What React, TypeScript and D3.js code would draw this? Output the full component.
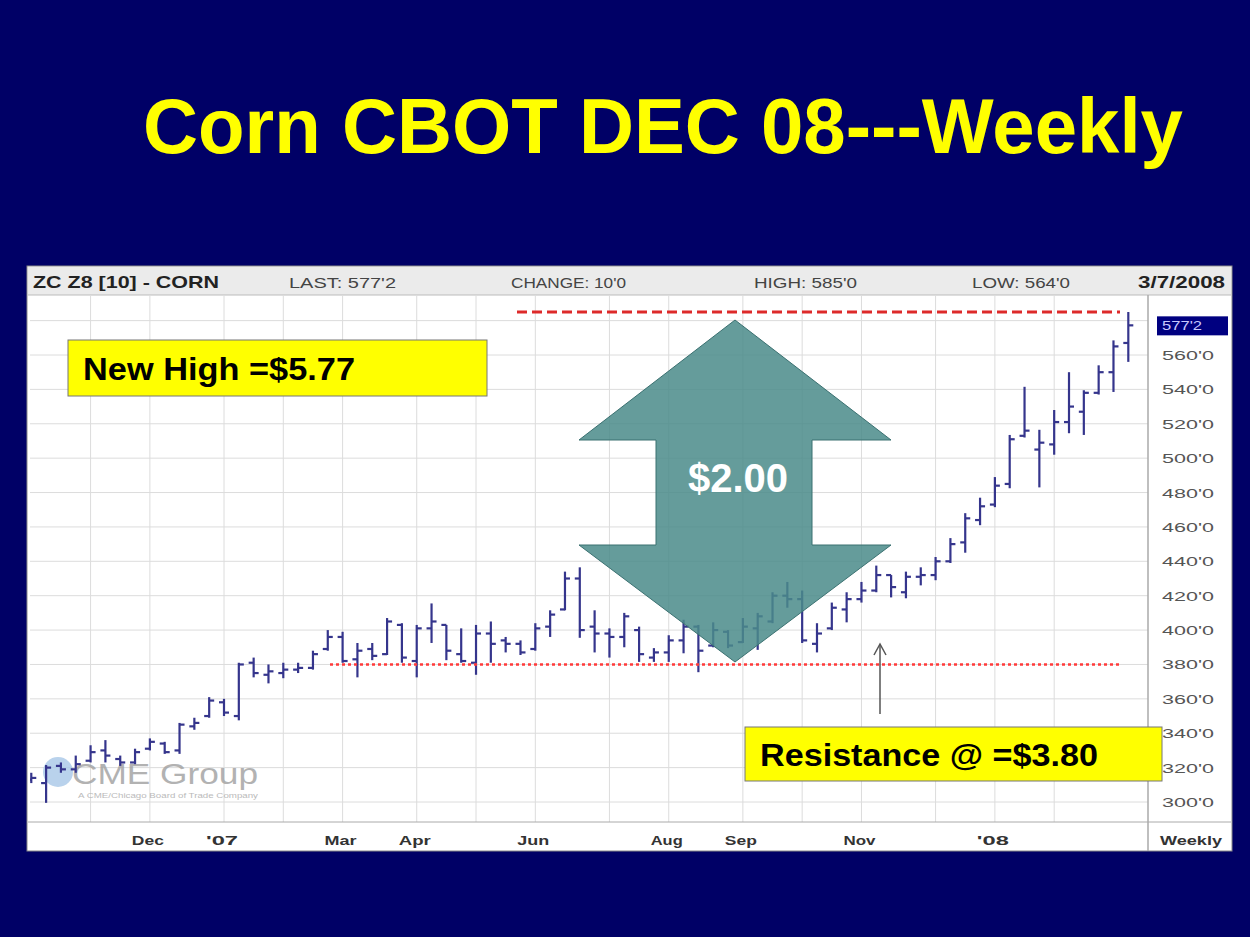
import React from "react";
import * as d3 from "d3";

// ---------- DATA ----------
const weekDates = [
  "2006-10-02","2006-10-09","2006-10-16","2006-10-23","2006-10-30","2006-11-06","2006-11-13","2006-11-20","2006-11-27",
  "2006-12-04","2006-12-11","2006-12-18","2006-12-25","2007-01-01","2007-01-08","2007-01-15","2007-01-22","2007-01-29",
  "2007-02-05","2007-02-12","2007-02-19","2007-02-26","2007-03-05","2007-03-12","2007-03-19","2007-03-26","2007-04-02",
  "2007-04-09","2007-04-16","2007-04-23","2007-04-30","2007-05-07","2007-05-14","2007-05-21","2007-05-28","2007-06-04",
  "2007-06-11","2007-06-18","2007-06-25","2007-07-02","2007-07-09","2007-07-16","2007-07-23","2007-07-30","2007-08-06",
  "2007-08-13","2007-08-20","2007-08-27","2007-09-03","2007-09-10","2007-09-17","2007-09-24","2007-10-01","2007-10-08",
  "2007-10-15","2007-10-22","2007-10-29","2007-11-05","2007-11-12","2007-11-19","2007-11-26","2007-12-03","2007-12-10",
  "2007-12-17","2007-12-24","2007-12-31","2008-01-07","2008-01-14","2008-01-21","2008-01-28","2008-02-04","2008-02-11",
  "2008-02-18","2008-02-25","2008-03-03",
];
const opens = [
  313,311,321,319,324,330,325,323,331,334,330,344,350,358,350,381,374,375,377,378,389,396,383,389,386,403,382,
  401,403,386,381,398,394,392,389,402,412,430,402,398,396,400,384,387,394,402,391,399,393,401,405,420,418,392,
  401,412,418,423,432,422,431,432,440,451,464,473,485,513,505,508,521,527,538,550,567,
];
const highs = [
  317,321.5,323,327,333,336,327,331,337,335,346,349,361,360,381,384,380,381,381,388,400,399,392.5,392.5,407,404,403,
  415.5,403,401,403,405,396,394,404,411.5,434,436.5,411.5,401,410,402,389.5,397,406,403,404.5,400,407,410,422,428,423,404,
  416,422,428,437.5,432,434,436.5,442.5,453.5,468,477,489,513.5,541.5,516.5,528,550,539.5,554,568.5,585,
];
const lows = [
  311,299.5,317,317,323,323,321,322,330,328,328,342,349,350,347.5,372.5,369,372,375,377,388,381,372.5,382.5,385.5,381,372.5,
  392.5,382.5,381,374,381,387,385.5,388,396,411.5,395.5,387,384,390,381.5,381.5,381.5,386.5,375.5,390,389.5,392.5,388.5,404,413,392.5,387,
  400,404.5,416,422,419,418.5,426,429,439,445,461,471.5,482.5,512,483,502,514.5,513.5,537,538.5,556,
];
const closes = [
  314,320,319,322,329,327,323,329,335,329,345,346,359,352,380,375,376,377,378,386,396,382,388,385,405,384,401,
  405,388,382,398,392,392,387,401,409,430,400,398,396,408,386,387,394,402,388,400,391,402,408,420,418,394,398,
  413,418,423,432,425,431,432,440,450,465,472,484,511,516,509,521,530,538,550,565,577.25,
];

const priceTicks = [300,320,340,360,380,400,420,440,460,480,500,520,540,560,580];
const priceLabels = ["300'0","320'0","340'0","360'0","380'0","400'0","420'0","440'0","460'0","480'0","500'0","520'0","540'0","560'0",""];
const monthWeeks = ["2006-10-30","2006-11-27","2007-01-01","2007-01-29","2007-02-26","2007-04-02","2007-04-30","2007-05-28",
  "2007-07-02","2007-07-30","2007-09-03","2007-10-01","2007-10-29","2007-12-03","2007-12-31","2008-01-28"];
const monthLabels = ["","Dec","'07","","Mar","Apr","","Jun","","Aug","Sep","","Nov","","'08",""];

const lastPrice = 577.25;
const lastLabel = "577'2";
const highLine = 585;
const resistance = 380;

const headerItems = [
  { text: "ZC Z8 [10] - CORN", bold: true },
  { text: "LAST: 577'2", bold: false },
  { text: "CHANGE: 10'0", bold: false },
  { text: "HIGH: 585'0", bold: false },
  { text: "LOW: 564'0", bold: false },
  { text: "3/7/2008", bold: true },
];

const parse = (s: string) => {
  const [y, m, d] = s.split("-").map(Number);
  return new Date(y, m - 1, d);
};

const FONT = "'Liberation Sans', Arial, Helvetica, sans-serif";

export default function App() {
  const W = 1250, H = 937;
  const plotL = 30, plotR = 1148, plotT = 295, plotB = 822;
  const x = d3.scaleTime().domain([new Date(2007, 0, 1), new Date(2008, 0, 1)]).range([224, 997]);
  const y = d3.scaleLinear().domain([300, 560]).range([802, 355]);

  const bars = weekDates.map((d, i) => ({
    x: x(parse(d)), o: opens[i], h: highs[i], l: lows[i], c: closes[i],
  }));

  const headerPos = [
    { x: 33, w: 186 }, { x: 289, w: 107 }, { x: 511, w: 115 }, { x: 754, w: 103 }, { x: 972, w: 98 }, { x: 1138, w: 87 },
  ];

  const arrowPts = [
    [735, 320], [891, 440], [812, 440], [812, 545], [891, 545], [735, 662],
    [579, 545], [656, 545], [656, 440], [579, 440],
  ].map((p) => p.join(",")).join(" ");

  return (
    <svg width={W} height={H} style={{ position: "fixed", left: 0, top: 0 }} fontFamily={FONT}>
      <defs>
        <clipPath id="plotclip">
          <rect x={plotL} y={plotT} width={plotR - plotL} height={plotB - plotT} />
        </clipPath>
      </defs>
      <rect x={0} y={0} width={W} height={H} fill="#000066" />
      <text x={663} y={153} fontSize={77} fontWeight="bold" fill="#ffff00" textAnchor="middle"
        textLength={1040} lengthAdjust="spacingAndGlyphs">
        Corn CBOT DEC 08---Weekly
      </text>

      {/* chart panel */}
      <rect x={27} y={266} width={1205} height={585} fill="#ffffff" stroke="#888" strokeWidth={1} />
      <rect x={28} y={267} width={1203} height={28} fill="#ebebeb" />
      <line x1={28} x2={1231} y1={295} y2={295} stroke="#bbb" />
      {headerItems.map((h, i) => (
        <text key={i} x={headerPos[i].x} y={288} fontSize={h.bold ? 17 : 14} fontWeight={h.bold ? "bold" : "normal"}
          fill={h.bold ? "#222" : "#444"} textLength={headerPos[i].w} lengthAdjust="spacingAndGlyphs">
          {h.text}
        </text>
      ))}

      {/* grid */}
      {priceTicks.map((p) => (
        <line key={"h" + p} x1={plotL} x2={plotR} y1={y(p)} y2={y(p)} stroke="#dcdcdc" strokeWidth={1} />
      ))}
      {monthWeeks.map((d) => (
        <line key={"v" + d} x1={x(parse(d))} x2={x(parse(d))} y1={plotT} y2={plotB} stroke="#dcdcdc" strokeWidth={1} />
      ))}
      <line x1={plotR} x2={plotR} y1={plotT} y2={851} stroke="#aaa" strokeWidth={1.5} />
      <line x1={28} x2={1231} y1={plotB} y2={plotB} stroke="#aaa" strokeWidth={1} />

      {/* right axis labels */}
      {priceTicks.map((p, i) =>
        priceLabels[i] ? (
          <text key={"pl" + p} x={1162} y={y(p) + 5} fontSize={13} fill="#555" textLength={52} lengthAdjust="spacingAndGlyphs">
            {priceLabels[i]}
          </text>
        ) : null
      )}
      <rect x={1157} y={y(lastPrice) - 9} width={71} height={19} fill="#000080" />
      <text x={1162} y={y(lastPrice) + 5} fontSize={13} fill="#c8c8ff" textLength={40} lengthAdjust="spacingAndGlyphs">
        {lastLabel}
      </text>

      {/* bottom axis labels */}
      {monthWeeks.map((d, i) =>
        monthLabels[i] ? (
          <text key={"ml" + d} x={x(parse(d)) - 2} y={845} fontSize={13} fontWeight="bold" fill="#333" textAnchor="middle"
            textLength={monthLabels[i].length === 3 ? 32 : 26} lengthAdjust="spacingAndGlyphs">
            {monthLabels[i]}
          </text>
        ) : null
      )}
      <text x={1160} y={845} fontSize={13} fontWeight="bold" fill="#333" textLength={62} lengthAdjust="spacingAndGlyphs">
        Weekly
      </text>

      {/* watermark */}
      <g opacity={0.8}>
        <circle cx={58} cy={772} r={15} fill="#a8c8e8" />
        <text x={72} y={784} fontSize={30} fill="#a0a0a0" textLength={186} lengthAdjust="spacingAndGlyphs">CME Group</text>
        <text x={78} y={798} fontSize={7} fill="#aaa" textLength={180} lengthAdjust="spacingAndGlyphs">
          A CME/Chicago Board of Trade Company
        </text>
      </g>

      {/* OHLC bars */}
      <g clipPath="url(#plotclip)" stroke="#35358c" strokeWidth={2.2}>
        {bars.map((b, i) => (
          <g key={i}>
            <line x1={b.x} x2={b.x} y1={y(b.h)} y2={y(b.l)} />
            <line x1={b.x - 5} x2={b.x} y1={y(b.o)} y2={y(b.o)} />
            <line x1={b.x} x2={b.x + 5} y1={y(b.c)} y2={y(b.c)} />
          </g>
        ))}
      </g>

      {/* reference lines */}
      <line x1={517} x2={1120} y1={y(highLine)} y2={y(highLine)} stroke="#dd2a2a" strokeWidth={3} strokeDasharray="10,5" />
      <line x1={330} x2={1122} y1={y(resistance)} y2={y(resistance)} stroke="#ff3b3b" strokeWidth={2.5} strokeDasharray="3,3" />

      {/* big double arrow */}
      <polygon points={arrowPts} fill="#4a8b8a" fillOpacity={0.85} stroke="#3a7070" strokeWidth={1} />
      <text x={738} y={492} fontSize={40} fontWeight="bold" fill="#ffffff" textAnchor="middle">$2.00</text>

      {/* small arrow */}
      <line x1={880} x2={880} y1={714} y2={645} stroke="#555" strokeWidth={1.5} />
      <path d="M874,655 L880,644 L886,655" fill="none" stroke="#555" strokeWidth={1.5} />

      {/* callouts */}
      <rect x={68} y={340} width={419} height={56} fill="#ffff00" stroke="#777" strokeWidth={1} />
      <text x={83} y={380} fontSize={31} fontWeight="bold" fill="#000" textLength={272} lengthAdjust="spacingAndGlyphs">
        New High =$5.77
      </text>
      <rect x={745} y={727} width={417} height={54} fill="#ffff00" stroke="#777" strokeWidth={1} />
      <text x={760} y={766} fontSize={31} fontWeight="bold" fill="#000" textLength={338} lengthAdjust="spacingAndGlyphs">
        Resistance @ =$3.80
      </text>
    </svg>
  );
}
